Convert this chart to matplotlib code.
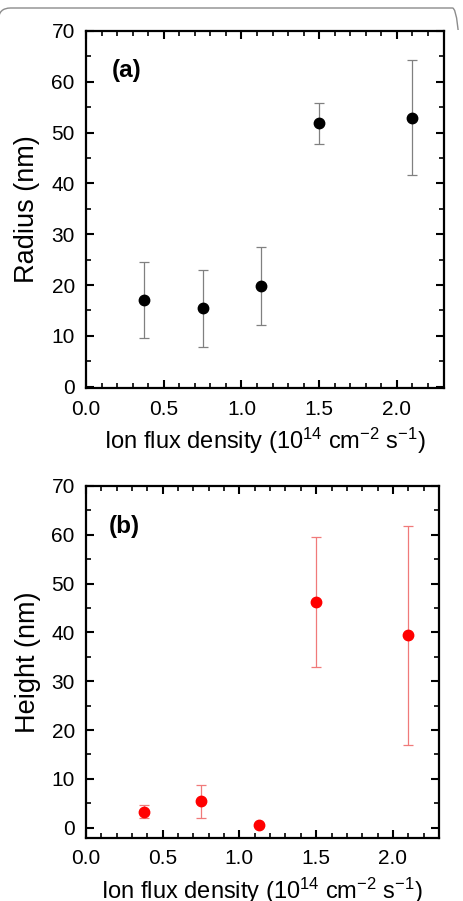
import matplotlib
matplotlib.use('Agg')
import matplotlib.pyplot as plt
from matplotlib.ticker import MultipleLocator, FormatStrFormatter
from matplotlib.patches import FancyBboxPatch
from matplotlib.transforms import IdentityTransform, Bbox

plt.rcParams['font.family'] = ['Liberation Sans', 'DejaVu Sans']
plt.rcParams['mathtext.fontset'] = 'custom'
plt.rcParams['mathtext.rm'] = 'Liberation Sans'
plt.rcParams['mathtext.it'] = 'Liberation Sans:italic'
plt.rcParams['mathtext.bf'] = 'Liberation Sans:bold'

# data
flux = [0.375, 0.75, 1.125, 1.5, 2.1]
radius = [17.0, 15.4, 19.8, 51.8, 52.9]
radius_err = [7.5, 7.5, 7.6, 4.1, 11.3]
height = [3.3, 5.4, 0.6, 46.3, 39.4]
height_err = [1.3, 3.4, 0.0, 13.3, 22.4]

xlabel = r'Ion flux density (10$^{14}$ cm$^{-2}$ s$^{-1}$)'

fig = plt.figure(figsize=(4.63, 9.01), dpi=100)

# rounded page frame, in pixels; only its top edge and corners show
frame = FancyBboxPatch((-1.5, 600), 466, 901 - 8 - 600,
                       boxstyle='round,pad=0,rounding_size=12',
                       transform=IdentityTransform(), fill=False,
                       edgecolor='#8c8c8c', linewidth=1.0)
frame.set_clip_box(Bbox.from_extents(0, 901 - 30, 463, 901))
fig.patches.append(frame)

ax1 = fig.add_axes([0.1857, 0.5697, 0.958 - 0.1857, 0.9656 - 0.5697])
ax2 = fig.add_axes([0.1857, 0.0703, 0.948 - 0.1857, 0.4606 - 0.0703])


def style(ax, ylabel, tag, tagx, tagy):
    ax.set_xlim(0, 2.3)
    ax.xaxis.set_major_locator(MultipleLocator(0.5))
    ax.xaxis.set_minor_locator(MultipleLocator(0.1))
    ax.yaxis.set_major_locator(MultipleLocator(10))
    ax.yaxis.set_minor_locator(MultipleLocator(5))
    ax.xaxis.set_major_formatter(FormatStrFormatter('%.1f'))
    ax.tick_params(which='both', direction='in', top=True, right=True,
                   labelsize=15, colors='black')
    ax.tick_params(which='major', length=6, width=1.5)
    ax.tick_params(which='minor', length=3.5, width=1.2)
    ax.tick_params(axis='x', pad=8.5)
    ax.tick_params(axis='y', pad=8)
    for s in ax.spines.values():
        s.set_linewidth(1.6)
    ax.set_xlabel(xlabel, fontsize=17, labelpad=5)
    ax.set_ylabel(ylabel, fontsize=19.5)
    ax.yaxis.set_label_coords(-0.128, 0.5)
    ax.text(tagx, tagy, tag, transform=ax.transAxes, fontsize=17.5,
            fontweight='bold', va='center', ha='left')


ax1.errorbar(flux, radius, yerr=radius_err, fmt='o', color='black',
             ms=7.5, ecolor='#808080', elinewidth=0.9, capsize=3.3,
             capthick=0.9)
ax1.set_ylim(-0.2, 70)
style(ax1, 'Radius (nm)', '(a)', 0.072, 0.888)

ax2.errorbar(flux, height, yerr=height_err, fmt='o', color='#ff0000',
             ms=7.5, ecolor='#f07a7a', elinewidth=0.9, capsize=3.3,
             capthick=0.9)
ax2.set_ylim(-2.05, 70)
style(ax2, 'Height (nm)', '(b)', 0.065, 0.884)

plt.savefig('out.png', dpi=100)
